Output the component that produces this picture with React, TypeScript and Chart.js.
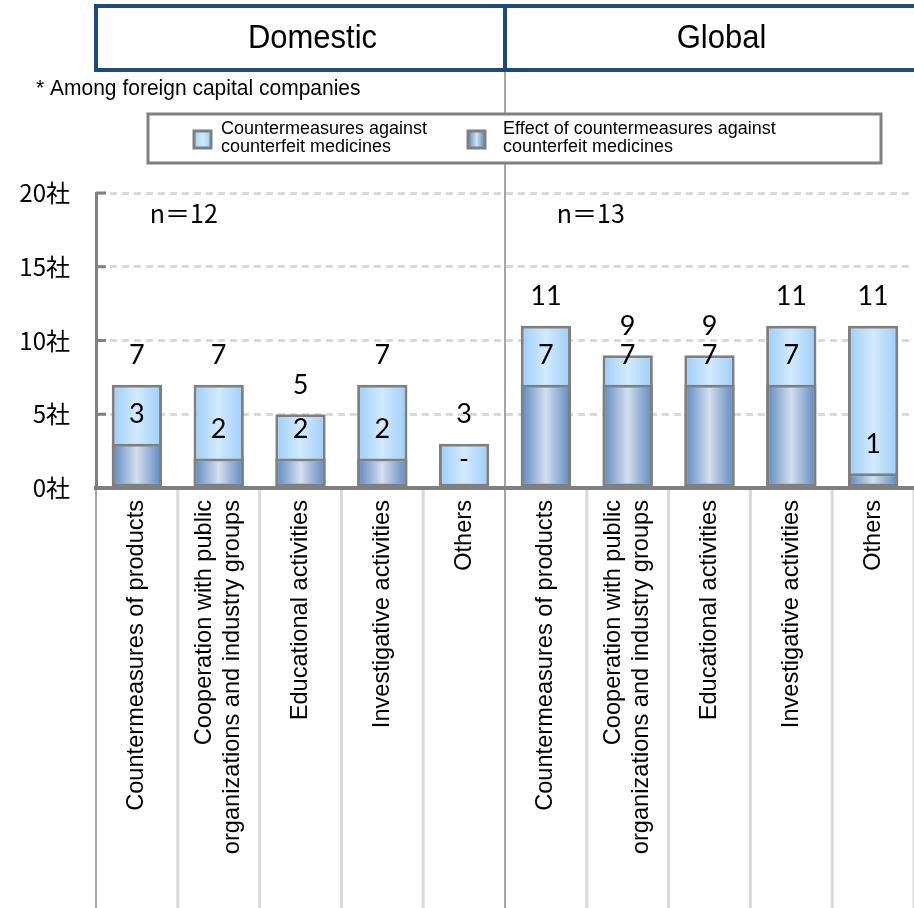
import React, { useEffect, useRef } from 'react';
import { Chart, registerables } from 'chart.js';

Chart.register(...registerables);

// ---------- data ----------
const categories: (string | string[])[] = [
  'Countermeasures of products',
  ['Cooperation with public', 'organizations and industry groups'],
  'Educational activities',
  'Investigative activities',
  'Others',
  'Countermeasures of products',
  ['Cooperation with public', 'organizations and industry groups'],
  'Educational activities',
  'Investigative activities',
  'Others',
];
const countermeasures = [7, 7, 5, 7, 3, 11, 9, 9, 11, 11];
const effects = [3, 2, 2, 2, 0, 7, 7, 7, 7, 1];
const yMin = 0;
const yMax = 20;
const yStep = 5;
const yUnit = '社';
const groupTitles = ['Domestic', 'Global'];
const sampleSizes = ['n＝12', 'n＝13'];
const legendLabels = [
  ['Countermeasures against', 'counterfeit medicines'],
  ['Effect of countermeasures against', 'counterfeit medicines'],
];
const note = '* Among foreign capital companies';

// ---------- styles ----------
const LIGHT = ['#9ccdf9', '#d2eafd'];
const DARK = ['#5a86c0', '#d4dfee'];
const BAR_PCT = 0.615;
const SANS = '"Liberation Sans", Arial, sans-serif';
const CJK = '"Noto Sans CJK JP", "Noto Sans", sans-serif';
const NUM = 'Lato, "Open Sans", sans-serif';
const STRETCH = 1.05;

function makeGradient(ctx: CanvasRenderingContext2D, x0: number, x1: number, stops: string[]) {
  const g = ctx.createLinearGradient(x0, 0, x1, 0);
  g.addColorStop(0, stops[0]);
  g.addColorStop(0.5, stops[1]);
  g.addColorStop(1, stops[0]);
  return g;
}

function barFill(c: any, stops: string[]) {
  const chart = c.chart;
  const area = chart.chartArea;
  const xs = chart.scales && chart.scales.x;
  if (!area || !xs || c.type !== 'data') return stops[1];
  const cx = xs.getPixelForValue(c.dataIndex);
  const w = ((area.right - area.left) / categories.length) * BAR_PCT;
  return makeGradient(chart.ctx, cx - w / 2, cx + w / 2, stops);
}

function drawText(
  ctx: CanvasRenderingContext2D,
  s: string,
  x: number,
  y: number,
  font: string,
  align: CanvasTextAlign = 'left',
  sy = 1,
  color = '#000'
) {
  ctx.save();
  ctx.translate(x, y);
  ctx.scale(1, sy);
  ctx.font = font;
  ctx.fillStyle = color;
  ctx.textAlign = align;
  ctx.textBaseline = 'middle';
  ctx.fillText(s, 0, 0);
  ctx.restore();
}

const decorPlugin = {
  id: 'decor',
  beforeDraw(chart: any) {
    const { ctx, chartArea: area, scales } = chart;
    const xs = scales.x;
    const n = categories.length;
    const slot = (area.right - area.left) / n;
    ctx.save();
    ctx.fillStyle = '#fff';
    ctx.fillRect(0, 0, chart.width, chart.height);
    // table separators below the axis
    for (let k = 0; k <= n; k++) {
      const x = xs.getPixelForValue(k) - slot / 2;
      const strong = k === 0 || k === n / 2;
      ctx.beginPath();
      ctx.strokeStyle = strong ? '#a6a6a6' : '#d9d9d9';
      ctx.lineWidth = strong ? 2 : 3;
      ctx.moveTo(x, area.bottom);
      ctx.lineTo(x, chart.height);
      ctx.stroke();
    }
    // group divider
    const mid = xs.getPixelForValue(n / 2) - slot / 2;
    ctx.beginPath();
    ctx.strokeStyle = '#a6a6a6';
    ctx.lineWidth = 2;
    ctx.moveTo(mid, 70);
    ctx.lineTo(mid, chart.height);
    ctx.stroke();
    ctx.restore();
  },
  afterDraw(chart: any) {
    const { ctx, chartArea: area, scales } = chart;
    const xs = scales.x;
    const ys = scales.y;
    const n = categories.length;
    const slot = (area.right - area.left) / n;
    const mid = xs.getPixelForValue(n / 2) - slot / 2;

    // y tick stubs
    ctx.save();
    ctx.strokeStyle = '#808080';
    ctx.lineWidth = 3;
    ys.ticks.forEach((t: any) => {
      const py = ys.getPixelForValue(t.value);
      ctx.beginPath();
      ctx.moveTo(area.left, py);
      ctx.lineTo(area.left + 10, py);
      ctx.stroke();
    });
    ctx.restore();

    // category labels (vertical, block centred on each tick)
    const lh = 28;
    categories.forEach((cat, i) => {
      const lines = Array.isArray(cat) ? cat : [cat];
      const x = xs.getPixelForValue(i);
      lines.forEach((line, j) => {
        const cx = x + (j - (lines.length - 1) / 2) * lh;
        ctx.save();
        ctx.translate(cx, area.bottom + 12);
        ctx.rotate(-Math.PI / 2);
        ctx.font = `23.6px ${SANS}`;
        ctx.fillStyle = '#000';
        ctx.textAlign = 'right';
        ctx.textBaseline = 'middle';
        ctx.fillText(line, 0, 0);
        ctx.restore();
      });
    });

    // header
    ctx.save();
    ctx.strokeStyle = '#1f497d';
    ctx.lineWidth = 4;
    ctx.strokeRect(area.left, 6, chart.width + 10 - area.left, 64);
    ctx.beginPath();
    ctx.moveTo(mid, 6);
    ctx.lineTo(mid, 70);
    ctx.stroke();
    ctx.restore();
    drawText(ctx, groupTitles[0], (area.left + mid) / 2 + 12, 39, `31px ${SANS}`, 'center', STRETCH);
    drawText(ctx, groupTitles[1], (mid + area.right) / 2 + 12, 39, `31px ${SANS}`, 'center', STRETCH);

    // note
    drawText(ctx, note, 36, 89, `21px ${SANS}`, 'left', STRETCH);

    // legend
    ctx.save();
    ctx.fillStyle = '#fff';
    ctx.fillRect(148, 114, 733, 49);
    ctx.strokeStyle = '#808080';
    ctx.lineWidth = 3;
    ctx.strokeRect(148, 114, 733, 49);
    const sw = [
      { x: 194, stops: LIGHT, tx: 221, lines: legendLabels[0] },
      { x: 468, stops: DARK, tx: 503, lines: legendLabels[1] },
    ];
    sw.forEach((s) => {
      ctx.fillStyle = makeGradient(ctx, s.x, s.x + 17, s.stops);
      ctx.fillRect(s.x, 131, 17, 17);
      ctx.strokeStyle = '#7f7f7f';
      ctx.lineWidth = 3;
      ctx.strokeRect(s.x, 131, 17, 17);
      s.lines.forEach((l, i) => drawText(ctx, l, s.tx, 129 + i * 18, `18px ${SANS}`, 'left', STRETCH));
    });
    ctx.restore();

    // sample sizes
    drawText(ctx, sampleSizes[0], xs.getPixelForValue(0.5) + 6, ys.getPixelForValue(18.6), `25px ${CJK}`, 'center');
    drawText(ctx, sampleSizes[1], xs.getPixelForValue(5.5) + 4, ys.getPixelForValue(18.6), `25px ${CJK}`, 'center');

    // value labels
    for (let i = 0; i < n; i++) {
      const x = xs.getPixelForValue(i);
      const topTotal = ys.getPixelForValue(countermeasures[i]);
      const topEff = ys.getPixelForValue(effects[i]);
      drawText(ctx, String(countermeasures[i]), x, topTotal - 29, `27px ${NUM}`, 'center');
      drawText(ctx, effects[i] ? String(effects[i]) : '-', x, topEff - 29, `27px ${NUM}`, 'center');
    }
  },
};

export default function App() {
  const ref = useRef<HTMLCanvasElement>(null);
  useEffect(() => {
    document.body.style.margin = '0';
    const chart = new Chart(ref.current as HTMLCanvasElement, {
      type: 'bar',
      data: {
        labels: categories as any,
        datasets: [
          {
            label: legendLabels[1].join(' '),
            data: effects.map((v) => (v === 0 ? null : v)) as any,
            backgroundColor: (c: any) => barFill(c, DARK),
            borderColor: '#7f7f7f',
            borderWidth: 3,
            borderSkipped: false,
            grouped: false,
            barPercentage: BAR_PCT,
            categoryPercentage: 1,
            order: 0,
          },
          {
            label: legendLabels[0].join(' '),
            data: countermeasures,
            backgroundColor: (c: any) => barFill(c, LIGHT),
            borderColor: '#7f7f7f',
            borderWidth: 3,
            borderSkipped: false,
            grouped: false,
            barPercentage: BAR_PCT,
            categoryPercentage: 1,
            order: 1,
          },
        ],
      },
      options: {
        responsive: false,
        devicePixelRatio: 1,
        animation: false,
        layout: { padding: { top: 193, left: 0, right: 0, bottom: 0 } },
        plugins: { legend: { display: false }, tooltip: { enabled: false } },
        scales: {
          x: {
            offset: true,
            grid: { display: false, drawTicks: false },
            border: { display: true, color: '#808080', width: 4 },
            ticks: { display: false, autoSkip: false },
            afterFit: (s: any) => {
              s.height = 420;
            },
          },
          y: {
            min: yMin,
            max: yMax,
            grid: { color: '#d9d9d9', lineWidth: 3, drawTicks: false },
            border: { display: true, color: '#808080', width: 3, dash: [7, 5] },
            ticks: {
              stepSize: yStep,
              padding: 26,
              color: '#000',
              font: { family: CJK, size: 24 },
              callback: (v: any) => `${v}${yUnit}`,
            },
            afterFit: (s: any) => {
              s.width = 96;
            },
          },
        },
      },
      plugins: [decorPlugin],
    });
    return () => chart.destroy();
  }, []);
  return (
    <div style={{ width: 914, height: 908, background: '#fff' }}>
      <canvas ref={ref} width={914} height={908} style={{ display: 'block' }} />
    </div>
  );
}
